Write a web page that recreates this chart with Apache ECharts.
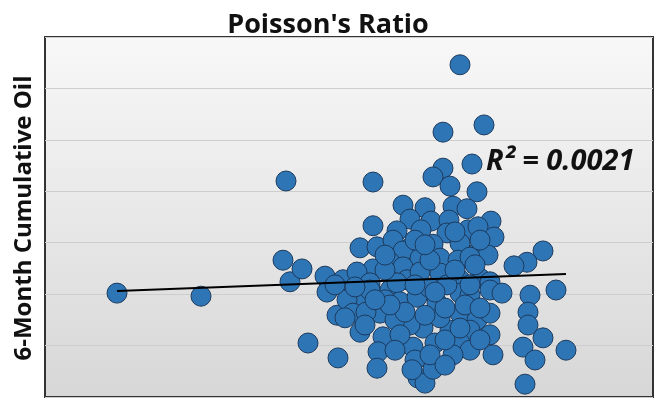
<!DOCTYPE html>
<html>
<head>
<meta charset="utf-8">
<script src="https://cdn.jsdelivr.net/npm/echarts@6/dist/echarts.min.js"></script>
<style>html,body{margin:0;padding:0;background:#fff}#c{width:656px;height:401px}</style>
</head>
<body>
<div id="c"></div>
<script>
// Poisson's ratio (x) vs 6-month cumulative oil (y, thousand bbl)
const poissonRatio = [
  0.136,0.178,0.2205,0.219,0.2225,0.2285,0.2315,0.2465,0.264,0.3075,
  0.299,0.3195,0.3135,0.299,0.294,0.3025,0.316,0.24,0.241,0.246,
  0.249,0.279,0.29,0.304,0.311,0.2825,0.264,0.293,0.302,0.323,
  0.3115,0.3165,0.3245,0.276,0.288,0.301,0.2575,0.266,0.274,0.2825,
  0.294,0.3075,0.316,0.3215,0.279,0.349,0.341,0.3345,0.2875,0.2975,
  0.3065,0.3125,0.264,0.256,0.2725,0.279,0.2625,0.281,0.2875,0.2975,
  0.3075,0.3175,0.3225,0.259,0.251,0.2625,0.2725,0.276,0.2775,0.286,
  0.296,0.3075,0.3225,0.3285,0.3425,0.3555,0.254,0.2675,0.2575,0.269,
  0.2665,0.266,0.284,0.285,0.2865,0.29,0.3075,0.316,0.3225,0.3415,
  0.289,0.3025,0.3125,0.3225,0.3415,0.295,0.3075,0.3125,0.304,0.324,
  0.339,0.349,0.345,0.3605,0.294,0.2825,0.34,0.2835,0.27,0.2925,
  0.301,0.3125,0.275,0.2975,0.27,0.305,0.2605,0.315,0.2925,0.285,
  0.3,0.3175,0.2775,
  0.25,0.26,0.28,0.29,0.3,0.31,0.3175,0.275,0.2925,0.3,
  0.27,0.29,0.305,0.3175,0.285,0.295,0.3125,0.3075,0.255,0.245,
  0.2725,0.265
];
const cumulativeOil = [
  20.2,19.6,42.0,26.6,22.4,24.9,10.5,7.6,41.8,64.6,
  51.5,52.9,45.3,44.5,42.8,41.0,39.9,23.5,20.4,15.9,
  22.8,37.3,36.8,37.1,36.6,34.6,33.3,34.2,34.4,34.2,
  32.5,33.1,31.1,32.3,32.5,31.9,29.0,29.2,30.5,29.0,
  29.7,29.9,28.0,27.6,28.4,28.4,26.2,25.5,27.0,27.0,
  26.6,27.2,24.9,24.3,26.2,25.3,22.2,22.8,24.3,24.1,
  22.8,23.1,22.4,19.3,18.9,20.8,20.8,22.2,18.5,19.4,
  18.3,20.2,20.8,20.2,19.8,20.8,16.3,16.3,12.6,11.7,
  8.8,5.6,9.7,7.2,3.7,2.7,16.3,15.0,16.3,16.5,
  13.4,13.0,13.0,12.1,14.0,10.5,10.5,9.1,8.2,8.2,
  9.7,11.5,7.2,9.1,5.4,14.0,2.5,5.3,18.9,21.2,
  21.8,19.8,15.0,15.4,24.7,24.7,16.5,25.7,26.6,30.5,
  11.1,11.1,12.1,
  15.4,14.0,16.5,15.9,17.3,17.9,17.3,9.1,8.2,6.2,
  27.6,29.6,32.1,30.5,21.8,20.4,21.8,13.4,21.4,21.8,
  17.9,18.9
];
// linear trend line end points and fit statistic
const trendX = [0.136, 0.3605];
const trendY = [20.6, 23.9];
const rSquared = "R² = 0.0021";
const titleText = "Poisson's Ratio";
const yAxisLabel = "6-Month Cumulative Oil";

const points = poissonRatio.map((x, i) => [x, cumulativeOil[i]]);
const trend = trendX.map((x, i) => [x, trendY[i]]);

const chart = echarts.init(document.getElementById('c'), null, {renderer: 'canvas'});
chart.setOption({
  animation: false,
  backgroundColor: '#ffffff',
  title: {
    text: titleText, left: 'center', top: 7,
    textStyle: {fontFamily: 'Open Sans', fontWeight: 'bold', fontSize: 27, color: '#111'}
  },
  grid: {
    left: 45, right: 3, top: 37, bottom: 4, show: true,
    borderColor: '#333333', borderWidth: 2,
    backgroundColor: new echarts.graphic.LinearGradient(0, 0, 0, 1, [
      {offset: 0, color: '#f8f8f8'}, {offset: 1, color: '#d7d7d7'}
    ])
  },
  xAxis: {
    type: 'value', min: 0.1, max: 0.404,
    axisLine: {show: false}, axisTick: {show: false}, axisLabel: {show: false},
    splitLine: {show: false}
  },
  yAxis: {
    type: 'value', min: 0, max: 70, interval: 10,
    axisLine: {show: false}, axisTick: {show: false}, axisLabel: {show: false},
    splitLine: {show: true, lineStyle: {color: '#cdcdcd', width: 1}}
  },
  graphic: [
    {
      type: 'text', x: 24, y: 218, rotation: Math.PI / 2,
      style: {text: yAxisLabel, fontFamily: 'Open Sans', fontWeight: 'bold', fontSize: 24,
              fill: '#111', align: 'center', verticalAlign: 'middle'}
    },
    {
      type: 'text', left: 486, top: 147, z: 10,
      style: {text: rSquared, fontFamily: 'Open Sans', fontWeight: 'bold', fontStyle: 'italic',
              fontSize: 29, fill: '#111'}
    }
  ],
  series: [
    {
      type: 'scatter', data: points, symbolSize: 20,
      itemStyle: {color: '#2e75b6', borderColor: '#1c3b5e', borderWidth: 1, opacity: 1},
      z: 2
    },
    {
      type: 'line', data: trend, symbol: 'none',
      lineStyle: {color: '#000', width: 2}, z: 3
    }
  ]
});
</script>
</body>
</html>
